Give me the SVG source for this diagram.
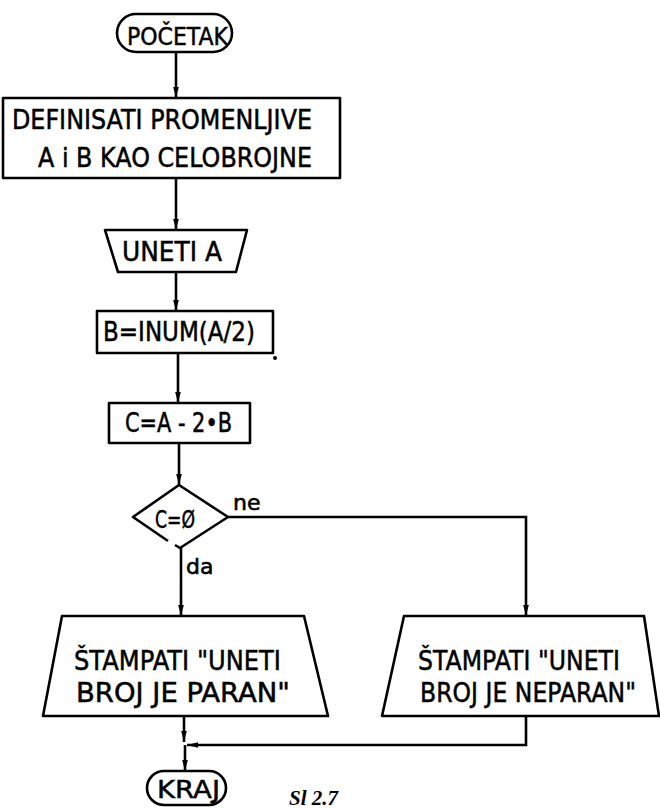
<svg xmlns="http://www.w3.org/2000/svg" width="660" height="809" viewBox="0 0 660 809">
  <style>
    .shape { fill: #ffffff; stroke: #000000; stroke-width: 2.6; stroke-linejoin: round; }
    .flow { fill: none; stroke: #000000; stroke-width: 2.6; }
    .lbl { font-family: "DejaVu Sans", "Liberation Sans", sans-serif; font-size: 26px; fill: #000000; stroke: #000000; stroke-width: 0.5; }
    .mid { font-size: 24px; }
    .small { font-family: "DejaVu Sans", "Liberation Sans", sans-serif; font-size: 22px; fill: #000000; stroke: #000000; stroke-width: 0.6; }
    .caption { font-family: "Liberation Serif", serif; font-style: italic; font-weight: bold; font-size: 21px; fill: #000000; }
  </style>
  <defs>
    <marker id="arrow" markerUnits="userSpaceOnUse" markerWidth="12" markerHeight="8" refX="11" refY="4" orient="auto">
      <path d="M0,1.2 L11,4 L0,6.8 z" fill="#000000"/>
    </marker>
  </defs>

  <!-- start terminal -->
  <g id="start">
    <rect class="shape" x="117" y="14" width="115" height="38" rx="19"/>
    <text class="lbl mid" x="127" y="45" textLength="101" lengthAdjust="spacingAndGlyphs">POČETAK</text>
  </g>

  <!-- declare variables -->
  <g id="declare">
    <rect class="shape" x="3" y="98" width="337" height="80"/>
    <text class="lbl" x="12" y="129" textLength="300" lengthAdjust="spacingAndGlyphs">DEFINISATI PROMENLJIVE</text>
    <text class="lbl" x="38" y="167" textLength="274" lengthAdjust="spacingAndGlyphs">A i B KAO CELOBROJNE</text>
  </g>

  <!-- input A -->
  <g id="input">
    <polygon class="shape" points="105,230 247,230 236,272 118,272"/>
    <text class="lbl" x="122" y="261" textLength="100" lengthAdjust="spacingAndGlyphs">UNETI A</text>
  </g>

  <!-- B = integer half of A -->
  <g id="half">
    <rect class="shape" x="97" y="311" width="176" height="42"/>
    <text class="lbl" x="103" y="341" textLength="152" lengthAdjust="spacingAndGlyphs">B=INUM(A/2)</text>
    <circle cx="275" cy="358" r="2" fill="#000000"/>
  </g>

  <!-- remainder -->
  <g id="remainder">
    <rect class="shape" x="109" y="403" width="141" height="40"/>
    <text class="lbl" x="125" y="432" textLength="107" lengthAdjust="spacingAndGlyphs">C=A - 2•B</text>
  </g>

  <!-- decision -->
  <g id="decision">
    <path class="shape" d="M168,541 L133,517 L179,485 L228,517 L180,548 L175,545"/>
    <text class="lbl mid" x="155" y="528" textLength="40" lengthAdjust="spacingAndGlyphs">C=Ø</text>
  </g>

  <!-- print even -->
  <g id="print-even">
    <polygon class="shape" points="62,616 304,616 328,716 43,716"/>
    <text class="lbl" x="74" y="670" textLength="207" lengthAdjust="spacingAndGlyphs">ŠTAMPATI "UNETI</text>
    <text class="lbl" x="76" y="702" textLength="214" lengthAdjust="spacingAndGlyphs">BROJ JE PARAN"</text>
  </g>

  <!-- print odd -->
  <g id="print-odd">
    <polygon class="shape" points="404,616 644,616 659,716 382,716"/>
    <text class="lbl" x="418" y="670" textLength="202" lengthAdjust="spacingAndGlyphs">ŠTAMPATI "UNETI</text>
    <text class="lbl" x="420" y="702" textLength="216" lengthAdjust="spacingAndGlyphs">BROJ JE NEPARAN"</text>
  </g>

  <!-- end terminal -->
  <g id="end">
    <rect class="shape" x="147" y="771" width="79" height="34" rx="17"/>
    <text class="lbl mid" x="157" y="798" textLength="63" lengthAdjust="spacingAndGlyphs">KRAJ</text>
  </g>

  <!-- connectors -->
  <g id="connectors">
    <path class="flow" d="M176,52 L176,98" marker-end="url(#arrow)"/>
    <path class="flow" d="M176,178 L176,230" marker-end="url(#arrow)"/>
    <path class="flow" d="M176,272 L176,311" marker-end="url(#arrow)"/>
    <path class="flow" d="M178,353 L178,403" marker-end="url(#arrow)"/>
    <path class="flow" d="M179,443 L179,485" marker-end="url(#arrow)"/>
    <path class="flow" d="M228,517 L526,517 L526,616" marker-end="url(#arrow)"/>
    <path class="flow" d="M181,548 L181,616" marker-end="url(#arrow)"/>
    <path class="flow" d="M184,716 L184,742" marker-end="url(#arrow)"/>
    <path class="flow" d="M526,716 L526,745 L187,745" marker-end="url(#arrow)"/>
    <path class="flow" d="M185,745 L185,771" marker-end="url(#arrow)"/>
  </g>

  <!-- branch labels and caption -->
  <text class="small" x="233" y="510">ne</text>
  <text class="small" x="186" y="574">da</text>
  <text class="caption" x="289" y="805">Sl 2.7</text>
</svg>
